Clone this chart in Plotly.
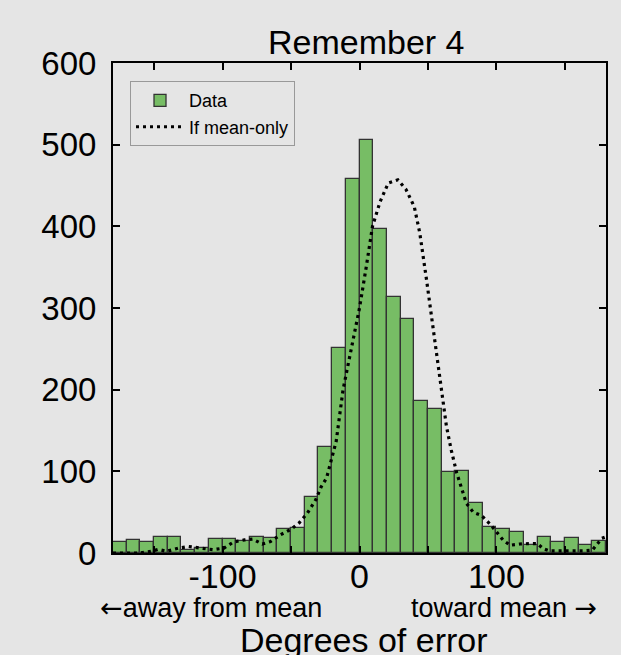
import plotly.graph_objects as go

bin_centers = [-175, -165, -155, -145, -135, -125, -115, -105, -95, -85, -75, -65,
               -55, -45, -35, -25, -15, -5, 5, 15, 25, 35, 45, 55,
               65, 75, 85, 95, 105, 115, 125, 135, 145, 155, 165, 175]
counts = [14, 16, 14, 20, 19, 4, 6, 17, 17, 15, 20, 18,
          29, 31, 69, 130, 251, 458, 506, 397, 314, 286, 186, 176,
          99, 100, 61, 32, 29, 26, 10, 19, 14, 18, 10, 15]

curve_x = [-180, -170, -160, -151, -147, -141, -132, -125, -120, -112, -107, -99, -92, -84,
           -78, -71, -65, -58, -50, -44, -38, -32, -28, -24, -17, -12, -7, -2, 0, 5, 9.5,
           15, 21, 28, 34, 40, 44, 49, 53, 56, 60, 63.5, 67, 71, 78, 83, 89, 95, 100, 105,
           110, 117, 124, 130, 134, 139, 146, 156, 163, 170, 173, 177, 180]
curve_y = [0, 0, 0, 2.5, 4.5, 2, 6, 8, 7, 5, 4, 6, 13.5, 16,
           17, 11, 14, 22, 29, 37, 49, 65, 81, 92, 137, 200, 242, 283, 300, 351, 400,
           430, 453, 457, 445, 424, 392, 334, 285, 245, 196, 155, 126, 98, 61, 50, 46, 36, 26, 15.5,
           9.5, 11, 11.5, 11.5, 5.5, 2.5, 2.5, 2.5, 2.5, 3.5, 9.5, 18, 20]

x_tickvals = [-150, -100, -50, 0, 50, 100, 150]
x_ticktext = ["", "-100", "", "0", "", "100", ""]
y_tickvals = [0, 100, 200, 300, 400, 500, 600]

BG = "#e5e5e5"
FONT = "Liberation Sans, Arial, sans-serif"
ARROW = "<span style='font-family:DejaVu Sans'>{}</span>"

fig = go.Figure()
fig.add_trace(go.Bar(
    x=bin_centers, y=counts, width=10, name="Data",
    marker=dict(color="#77bd65", line=dict(color="#333333", width=1.3)),
))
fig.add_trace(go.Scatter(
    x=curve_x, y=curve_y, mode="lines", name="If mean-only",
    line=dict(color="black", width=3.2, dash="3px,4px"),
))

fig.update_layout(
    width=621, height=655,
    margin=dict(l=113, r=15, t=63, b=102),
    paper_bgcolor=BG, plot_bgcolor=BG,
    font=dict(family=FONT, color="black"),
    bargap=0,
    showlegend=True,
    legend=dict(
        x=0.0345, y=0.963, xanchor="left", yanchor="top",
        bgcolor=BG, bordercolor="#999999", borderwidth=1,
        font=dict(size=18, family=FONT), itemwidth=48,
        tracegroupgap=0,
    ),
    xaxis=dict(
        range=[-180, 180], tickmode="array", tickvals=x_tickvals, ticktext=x_ticktext,
        ticks="inside", ticklen=7, tickwidth=1.5, tickcolor="black",
        showline=True, linecolor="black", linewidth=2, mirror="ticks",
        showgrid=False, zeroline=False,
        tickfont=dict(size=34, family=FONT), ticklabelstandoff=-8,
    ),
    yaxis=dict(
        range=[0, 600], tickmode="array", tickvals=y_tickvals,
        ticks="inside", ticklen=7, tickwidth=1.5, tickcolor="black",
        showline=True, linecolor="black", linewidth=2, mirror="ticks",
        showgrid=False, zeroline=False,
        tickfont=dict(size=33, family=FONT), ticklabelstandoff=8,
    ),
    annotations=[
        dict(text="Remember 4", x=0.515, y=1.0, xref="paper", yref="paper",
             xanchor="center", yanchor="bottom", yshift=0, showarrow=False,
             font=dict(size=34, family=FONT)),
        dict(text=ARROW.format("\u2190") + "away from mean", x=-0.03, y=-0.112,
             xref="paper", yref="paper",
             xanchor="left", yanchor="middle", showarrow=False,
             font=dict(size=27, family=FONT)),
        dict(text="toward mean " + ARROW.format("\u2192"), x=0.986, y=-0.112,
             xref="paper", yref="paper",
             xanchor="right", yanchor="middle", showarrow=False,
             font=dict(size=27, family=FONT)),
        dict(text="Degrees of error", x=0.509, y=-0.178, xref="paper", yref="paper",
             xanchor="center", yanchor="middle", showarrow=False,
             font=dict(size=34, family=FONT)),
    ],
)

fig.write_html("out.html")
